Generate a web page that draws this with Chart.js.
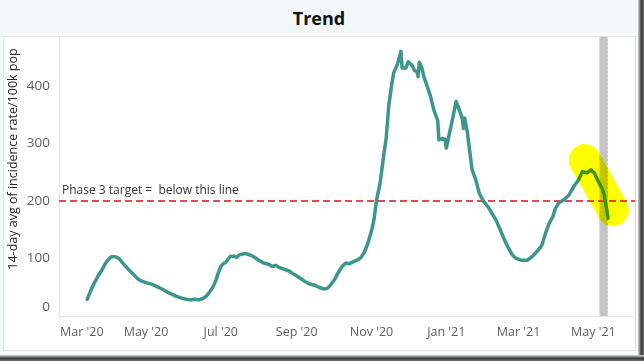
<!DOCTYPE html>
<html><head><meta charset="utf-8">
<script src="https://cdn.jsdelivr.net/npm/chart.js@4.4.1/dist/chart.umd.min.js"></script>
<style>
html,body{margin:0;padding:0;background:#fff;}
#wrap{position:relative;width:644px;height:361px;overflow:hidden;background:#f4f9f9;}
#title{position:absolute;left:0;top:0;width:638px;height:33px;background:#f2f8f8;color:#111;font:bold 18px "Open Sans",sans-serif;text-align:center;line-height:36px;}
#gap{position:absolute;left:0;top:33px;width:638px;height:3px;background:#fff;}
#panel{position:absolute;left:3px;top:36px;width:631px;height:313px;border:1px solid #e3e3e3;background:#fff;}
#shadowR{position:absolute;left:638px;top:0;width:6px;height:361px;background:linear-gradient(to right,#d8d8d8,#3a3a3a 55%,#707070);}
#shadowB{position:absolute;left:0;top:355px;width:644px;height:6px;background:linear-gradient(to bottom,#d8d8d8,#3a3a3a 55%,#707070);}
canvas{position:absolute;left:0;top:0;}
</style></head>
<body>
<div id="wrap">
  <div id="title">Trend</div>
  <div id="gap"></div>
  <div id="panel"></div>
  <div id="shadowR"></div>
  <div id="shadowB"></div>
  <canvas id="c" width="644" height="361"></canvas>
</div>
<script>
const ORIGIN = Date.parse('2020-03-01');
const dayOf = s => (Date.parse(s) - ORIGIN) / 86400000;

// ---- data ----
const dates = [
 '2020-03-14','2020-03-17','2020-03-20','2020-03-23','2020-03-26','2020-03-29','2020-04-01','2020-04-03','2020-04-06','2020-04-09',
 '2020-04-12','2020-04-15','2020-04-18','2020-04-21','2020-04-24','2020-04-27','2020-05-01','2020-05-06','2020-05-10','2020-05-14',
 '2020-05-18','2020-05-22','2020-05-26','2020-05-30','2020-06-03','2020-06-07','2020-06-10','2020-06-13','2020-06-16','2020-06-19',
 '2020-06-22','2020-06-25','2020-06-27','2020-06-29','2020-07-01','2020-07-03','2020-07-05','2020-07-07','2020-07-09','2020-07-12',
 '2020-07-14','2020-07-16','2020-07-19','2020-07-22','2020-07-25','2020-07-28','2020-08-01','2020-08-05','2020-08-09','2020-08-12',
 '2020-08-15','2020-08-18','2020-08-22','2020-08-26','2020-08-30','2020-09-03','2020-09-07','2020-09-11','2020-09-15','2020-09-19',
 '2020-09-23','2020-09-26','2020-09-29','2020-10-02','2020-10-05','2020-10-08','2020-10-11','2020-10-14','2020-10-17','2020-10-20',
 '2020-10-23','2020-10-26','2020-10-29','2020-11-01','2020-11-03','2020-11-05','2020-11-08','2020-11-11','2020-11-13','2020-11-15',
 '2020-11-17','2020-11-19','2020-11-22','2020-11-24','2020-11-25','2020-11-26','2020-11-29','2020-12-01','2020-12-04','2020-12-06',
 '2020-12-08','2020-12-09','2020-12-10','2020-12-12','2020-12-14','2020-12-16','2020-12-19','2020-12-22','2020-12-25','2020-12-26',
 '2020-12-29','2020-12-31','2021-01-01','2021-01-03','2021-01-06','2021-01-09','2021-01-11','2021-01-14','2021-01-15','2021-01-16',
 '2021-01-18','2021-01-20','2021-01-22','2021-01-25','2021-01-28','2021-01-31','2021-02-04','2021-02-08','2021-02-11','2021-02-14',
 '2021-02-18','2021-02-21','2021-02-24','2021-02-27','2021-03-03','2021-03-08','2021-03-12','2021-03-16','2021-03-20','2021-03-23',
 '2021-03-26','2021-03-29','2021-03-31','2021-04-03','2021-04-07','2021-04-11','2021-04-15','2021-04-19','2021-04-22','2021-04-26',
 '2021-04-29','2021-05-02','2021-05-05','2021-05-08','2021-05-10','2021-05-11','2021-05-12','2021-05-13'
];
const rates = [
 29,45,58,70,80,92,100,103,103,100,
 92,85,78,72,65,61,58,55,51,47,
 42,38,34,31,29,28,29,28,30,34,
 42,52,62,75,86,91,93,99,104,104,
 102,106,108,108,106,103,97,92,90,86,
 88,84,81,78,72,67,61,56,54,50,
 47,48,55,64,76,86,92,91,94,97,
 101,110,126,148,167,200,231,280,310,364,
 395,422,437,452,460,431,431,442,436,427,
 425,416,441,432,414,402,383,357,340,306,
 309,307,292,312,341,373,362,344,326,344,
 322,289,255,237,213,201,190,176,165,150,
 130,117,106,100,97,97,103,112,123,144,
 161,173,187,197,202,210,225,237,251,249,
 254,248,234,222,210,196,184,170
];
const xTickDates  = ['2020-03-01','2020-05-01','2020-07-01','2020-09-01','2020-11-01','2021-01-01','2021-03-01','2021-05-01'];
const xTickLabels = ["Mar '20","May '20","Jul '20","Sep '20","Nov '20","Jan '21","Mar '21","May '21"];
const yTickValues = [0,100,200,300,400];
const axisRange = ['2020-02-20','2021-06-04'];
const yMax = 485;
const targetValue = 200;
const targetLabel = 'Phase 3 target =  below this line';
const bandDates = ['2021-05-06','2021-05-13'];
const highlightDates  = ['2021-04-24','2021-05-05','2021-05-17'];
const highlightValues = [271,230,184];
const yTitle = '14-day avg of incidence rate/100k pop';

// ---- styles ----
const FONT = '"Open Sans", "Noto Sans", sans-serif';
const TEAL = '#3d968c';
const RED = '#e8474c';

const mainData = dates.map((d,i)=>({x:dayOf(d), y:rates[i]}));
const targetData = axisRange.map(d=>({x:dayOf(d), y:targetValue}));
const highlightData = highlightDates.map((d,i)=>({x:dayOf(d), y:highlightValues[i]}));

const bandPlugin = {
  id:'band',
  beforeDatasetsDraw(chart){
    const {ctx, chartArea, scales:{x}} = chart;
    const x1 = x.getPixelForValue(dayOf(bandDates[0]));
    const x2 = x.getPixelForValue(dayOf(bandDates[1]));
    ctx.save();
    ctx.fillStyle = '#c4c4c4';
    ctx.fillRect(x1, chartArea.top, x2-x1, chartArea.bottom-chartArea.top);
    ctx.strokeStyle = '#dcdcdc'; ctx.lineWidth = 1; ctx.setLineDash([2,2]);
    ctx.beginPath();
    ctx.moveTo(x1+0.5, chartArea.top); ctx.lineTo(x1+0.5, chartArea.bottom);
    ctx.moveTo(x2-0.5, chartArea.top); ctx.lineTo(x2-0.5, chartArea.bottom);
    ctx.stroke();
    ctx.restore();
  }
};
const multiplyPlugin = {
  id:'multiply',
  beforeDatasetDraw(chart,args){ if(args.meta._dataset.highlight){ chart.ctx.save(); chart.ctx.globalCompositeOperation='multiply'; } },
  afterDatasetDraw(chart,args){ if(args.meta._dataset.highlight){ chart.ctx.restore(); } }
};
const labelShiftPlugin = {
  id:'labelShift',
  beforeDraw(chart){
    try{
      const ys = chart.scales.y;
      const yi = ys.getLabelItems();
      yi.forEach((it,i)=>{ if(ys.ticks[i] && ys.ticks[i].value===0){ it.options.translation[1] -= 9; } });
      const xs = chart.scales.x;
      const xi = xs.getLabelItems();
      if(xi.length){ xi[0].options.textAlign='left'; xi[0].options.translation[0] = chart.chartArea.left + 1; }
    }catch(e){}
  }
};
const textPlugin = {
  id:'texts',
  afterDraw(chart){
    const {ctx, chartArea, scales:{y}} = chart;
    ctx.save();
    ctx.fillStyle = '#333';
    ctx.font = '12px ' + FONT;
    ctx.textAlign = 'left'; ctx.textBaseline = 'middle';
    ctx.fillText(targetLabel, chartArea.left + 3, y.getPixelForValue(targetValue) - 10);
    ctx.translate(13, 159);
    ctx.rotate(-Math.PI/2);
    ctx.textAlign = 'center';
    ctx.fillStyle = '#252423';
    ctx.font = '12.5px ' + FONT;
    ctx.fillText(yTitle, 0, 0);
    ctx.restore();
  }
};

new Chart(document.getElementById('c'), {
  type:'line',
  data:{ datasets:[
    { label:'target', data:targetData, borderColor:RED, borderWidth:2, borderDash:[7,4], pointRadius:0, order:3 },
    { label:'rate', data:mainData, borderColor:TEAL, borderWidth:3.5, pointRadius:0, tension:0,
      borderJoinStyle:'round', borderCapStyle:'round', order:2 },
    { label:'highlight', highlight:true, data:highlightData, borderColor:'#ffff00', borderWidth:32, pointRadius:0,
      borderJoinStyle:'round', borderCapStyle:'round', tension:0, order:1 }
  ]},
  options:{
    responsive:false, animation:false, devicePixelRatio:1,
    layout:{ padding:{ top:37, right:9, left:0, bottom:0 } },
    plugins:{ legend:{display:false}, tooltip:{enabled:false} },
    scales:{
      x:{ type:'linear', min:dayOf(axisRange[0]), max:dayOf(axisRange[1]),
        grid:{display:false, drawTicks:false},
        border:{display:true, color:'#e6e6e6', width:1},
        afterBuildTicks(s){ s.ticks = xTickDates.map(d=>({value:dayOf(d)})); },
        afterFit(s){ s.height = 45; },
        ticks:{ autoSkip:false, maxRotation:0, padding:9, color:'#605e5c', font:{family:FONT, size:12.5},
          callback:(v,i)=>xTickLabels[i] }
      },
      y:{ type:'linear', min:0, max:yMax,
        grid:{display:false, drawTicks:false},
        border:{display:true, color:'#e6e6e6', width:1},
        afterBuildTicks(s){ s.ticks = yTickValues.map(v=>({value:v})); },
        afterFit(s){ s.width = 59; },
        ticks:{ padding:9, color:'#605e5c', font:{family:FONT, size:13.5}, callback:v=>String(v) }
      }
    }
  },
  plugins:[bandPlugin, multiplyPlugin, labelShiftPlugin, textPlugin]
});
</script>
</body></html>
